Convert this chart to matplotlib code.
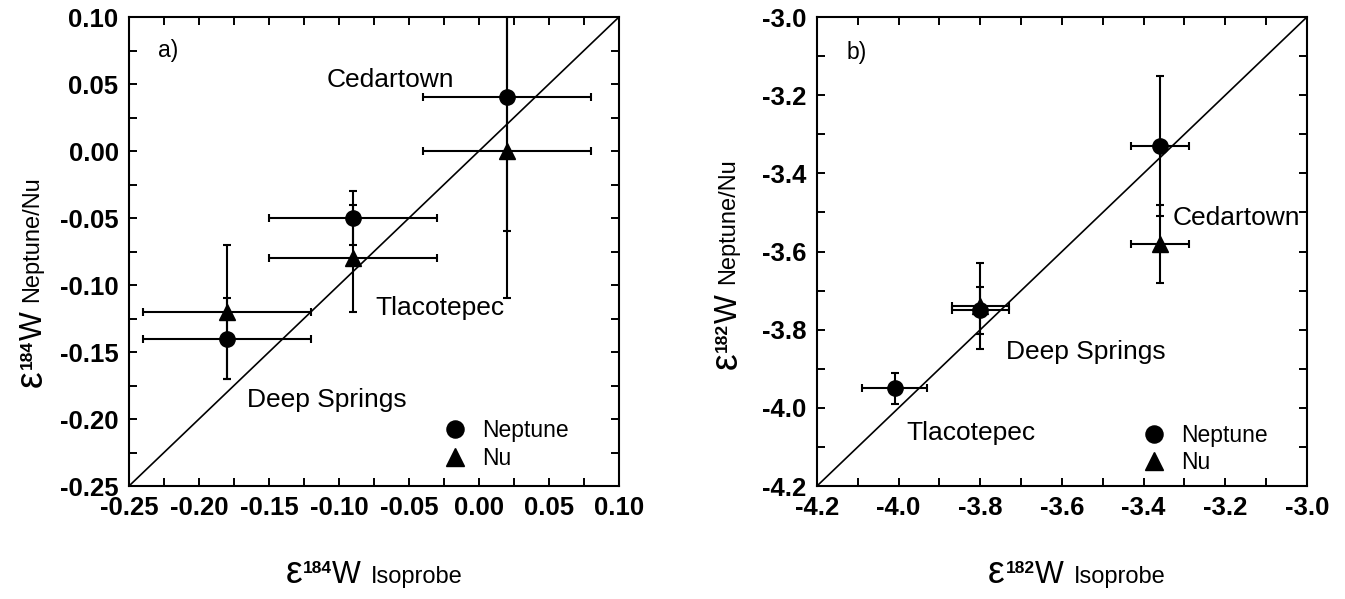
import numpy as np
import matplotlib
matplotlib.use("Agg")
import matplotlib.pyplot as plt
from matplotlib.ticker import MultipleLocator, FormatStrFormatter
from matplotlib.transforms import offset_copy

# W isotope data, order: Deep Springs, Tlacotepec, Cedartown
sites = ["Deep Springs", "Tlacotepec", "Cedartown"]

iso184 = [-0.18, -0.09, 0.02]
iso184_err = [0.06, 0.06, 0.06]
nep184 = [-0.14, -0.05, 0.04]
nep184_err = [0.03, 0.02, 0.10]
nu184 = [-0.12, -0.08, 0.00]
nu184_err = [0.05, 0.04, 0.11]

iso182 = [-3.80, -4.01, -3.36]
iso182_err = [0.07, 0.08, 0.07]
nep182 = [-3.75, -3.95, -3.33]
nep182_err = [0.06, 0.04, 0.18]
nu182 = [-3.74, np.nan, -3.58]
nu182_err = [0.11, np.nan, 0.10]

plt.rcParams["font.family"] = "Liberation Sans"

fig = plt.figure(figsize=(13.45, 5.99), dpi=100)
ax1 = fig.add_axes([0.0959, 0.1886, 0.3643, 0.783])
ax2 = fig.add_axes([0.6074, 0.1886, 0.3643, 0.783])


def draw(ax, x, xe, yn, yne, yu, yue, lims, major, fmt):
    ax.plot(lims, lims, color="black", lw=1.2, zorder=1)
    ax.errorbar(x, yn, xerr=xe, yerr=yne, fmt="none", ecolor="black",
                elinewidth=1.5, capsize=2.8, capthick=1.5, zorder=2)
    ax.errorbar(x, yu, xerr=xe, yerr=yue, fmt="none", ecolor="black",
                elinewidth=1.5, capsize=2.8, capthick=1.5, zorder=2)
    ax.plot(x, yn, "o", color="black", ms=11, label="Neptune", zorder=3)
    ax.plot(x, yu, "^", color="black", ms=11, label="Nu", zorder=3)
    ax.set_xlim(lims)
    ax.set_ylim(lims)
    for a in (ax.xaxis, ax.yaxis):
        a.set_major_locator(MultipleLocator(major))
        a.set_minor_locator(MultipleLocator(major / 2))
        a.set_major_formatter(FormatStrFormatter(fmt))
    ax.tick_params(which="both", direction="in", top=True, right=True,
                   length=5.5, width=1.4, labelsize=18.5)
    ax.tick_params(axis="x", pad=7)
    ax.tick_params(axis="y", pad=7.5)
    for lab in ax.get_xticklabels() + ax.get_yticklabels():
        lab.set_fontweight("bold")
    for s in ax.spines.values():
        s.set_linewidth(1.5)


draw(ax1, iso184, iso184_err, nep184, nep184_err, nu184, nu184_err,
     [-0.25, 0.10], 0.05, "%.2f")
draw(ax2, iso182, iso182_err, nep182, nep182_err, nu182, nu182_err,
     [-4.2, -3.0], 0.2, "%.1f")

renderer = fig.canvas.get_renderer()


def axis_label(ax, iso, sub, x, y, rotation, sub_rise):
    # pieces: text, size, weight, rise (px), gap after (px)
    pieces = [("\u03b5", 27, "normal", 0, 1),
              (iso, 12.5, "bold", 10, 0),
              ("W", 22, "normal", 0, 10),
              (sub, 17, "normal", sub_rise, 0)]
    widths = []
    for s, size, weight, rise, gap in pieces:
        t = fig.text(0, 0, s, fontsize=size, fontweight=weight)
        widths.append(t.get_window_extent(renderer).width + gap)
        t.remove()
    pos = -sum(widths) / 2
    for (s, size, weight, rise, gap), w in zip(pieces, widths):
        if rotation == 0:
            dx, dy = pos, rise
        else:
            dx, dy = -rise, pos
        tr = offset_copy(ax.transAxes, fig=fig, x=dx, y=dy, units="dots")
        ax.text(x, y, s, transform=tr, fontsize=size, fontweight=weight,
                rotation=rotation, rotation_mode="anchor",
                ha="left", va="baseline", clip_on=False)
        pos += w


axis_label(ax1, "184", "Isoprobe", 0.5, -0.207, 0, 0)
axis_label(ax1, "184", "Neptune/Nu", -0.178, 0.436, 90, 4)
axis_label(ax2, "182", "Isoprobe", 0.53, -0.207, 0, 0)
axis_label(ax2, "182", "Neptune/Nu", -0.163, 0.474, 90, 3)

# annotations
ax1.text(-0.229, 0.075, "a)", fontsize=16.5, ha="left", va="center")
ax1.text(-0.109, 0.053, "Cedartown", fontsize=19, ha="left", va="center")
ax1.text(-0.074, -0.117, "Tlacotepec", fontsize=19, ha="left", va="center")
ax1.text(-0.166, -0.186, "Deep Springs", fontsize=19, ha="left", va="center")

ax2.text(-4.127, -3.092, "b)", fontsize=16.5, ha="left", va="center")
ax2.text(-3.328, -3.514, "Cedartown", fontsize=19, ha="left", va="center")
ax2.text(-3.737, -3.857, "Deep Springs", fontsize=19, ha="left", va="center")
ax2.text(-3.980, -4.064, "Tlacotepec", fontsize=19, ha="left", va="center")

for ax, bx, by in ((ax1, 0.642, 0.142), (ax2, 0.664, 0.133)):
    ax.legend(loc="upper left", bbox_to_anchor=(bx, by), frameon=False,
              fontsize=16.5, borderpad=0, borderaxespad=0, handlelength=1.0,
              handletextpad=0.7, labelspacing=0.2, markerscale=1.12)

fig.savefig("out.png", dpi=100)
